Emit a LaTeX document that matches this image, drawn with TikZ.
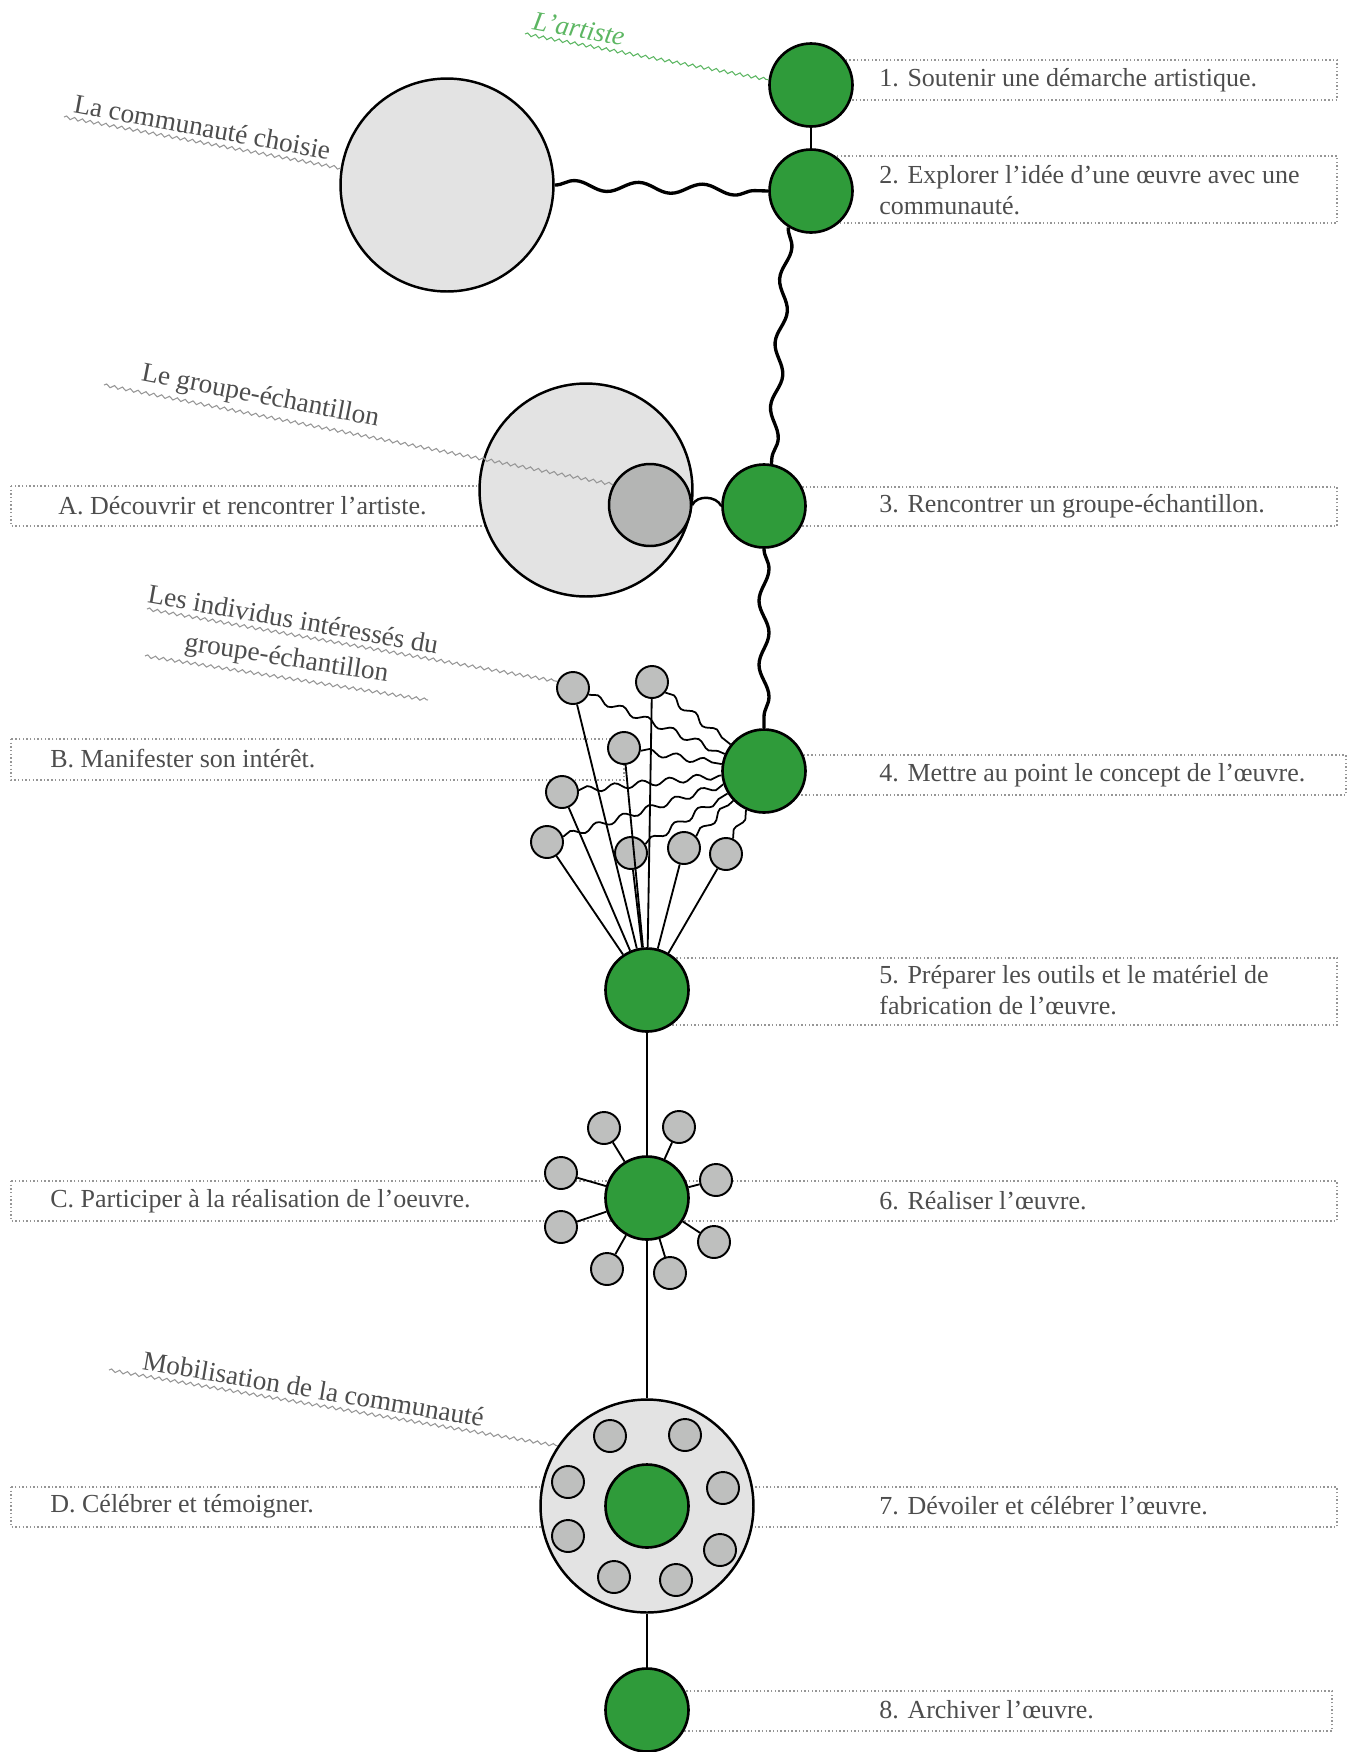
\documentclass[tikz,border=0pt]{standalone}
\usepackage{fontspec}
\setmainfont{Liberation Serif}
\usetikzlibrary{positioning, decorations.pathmorphing, calc}

\definecolor{vert}{RGB}{47,155,58}
\definecolor{vertclair}{RGB}{92,182,98}
\definecolor{grisfond}{RGB}{227,227,227}
\definecolor{grismoyen}{RGB}{190,191,190}
\definecolor{gristexte}{RGB}{77,77,77}
\definecolor{grisligne}{RGB}{150,150,150}

\begin{document}
\begin{tikzpicture}[x=0.02cm, y=-0.02cm, every node/.style={align=left},
  etape/.style={circle, draw, line width=1.5pt, fill=vert, minimum size=1.66cm, inner sep=0pt},
  groupe/.style={circle, draw, line width=1.4pt, fill=grisfond, minimum size=4.26cm, inner sep=0pt},
  individu/.style={circle, draw, line width=1.1pt, fill=grismoyen, minimum size=0.64cm, inner sep=0pt},
  texte/.style={text=gristexte, font=\fontsize{14.8}{17.6}\selectfont, anchor=west, inner sep=0pt},
  boite/.style={draw=grisligne, line width=0.8pt, dash pattern=on 0.8pt off 1.3pt},
  lien/.style={line width=1.9pt, decorate, decoration={snake, amplitude=0.1cm, segment length=1.28cm}},
  fil/.style={line width=1.4pt},
  filfin/.style={line width=1.05pt},
  onde/.style={line width=1pt, decorate, decoration={snake, amplitude=0.065cm, segment length=0.55cm}},
  renvoi/.style={draw=grisligne, line width=0.6pt, decorate, decoration={snake, amplitude=0.03cm, segment length=0.16cm}},
  legende/.style={text=gristexte, font=\fontsize{15.5}{18}\selectfont, sloped, above=3pt, inner sep=0pt, align=center}]

  \useasboundingbox (0,0) rectangle (1347,1752);

  % Boxes
  \draw[boite] (811,60) rectangle (1337,100);
  \draw[boite] (811,156) rectangle (1337,223);
  \draw[boite] (764,487) rectangle (1337,526);
  \draw[boite] (764,755) rectangle (1346,795);
  \draw[boite] (647,958) rectangle (1337,1025);
  \draw[boite] (647,1181) rectangle (1337,1221);
  \draw[boite] (647,1487) rectangle (1337,1527);
  \draw[boite] (647,1691) rectangle (1332,1731);
  \draw[boite] (11,486) rectangle (586,526);
  \draw[boite] (11,739) rectangle (624,780);
  \draw[boite] (11,1181) rectangle (647,1221);
  \draw[boite] (11,1487) rectangle (647,1527);

  % Steps
  \node[texte] (t1) at (879,80) {1. Soutenir une démarche artistique.};
  \node[texte] (t2) at (879,190) {2. Explorer l’idée d’une œuvre avec une\\communauté.};
  \node[texte] (t3) at (879,506) {3. Rencontrer un groupe-échantillon.};
  \node[texte] (t4) at (879,775) {4. Mettre au point le concept de l’œuvre.};
  \node[texte] (t5) at (879,990) {5. Préparer les outils et le matériel de\\fabrication de l’œuvre.};
  \node[texte] (t6) at (879,1201) {6. Réaliser l’œuvre.};
  \node[texte] (t7) at (879,1506) {7. Dévoiler et célébrer l’œuvre.};
  \node[texte] (t8) at (879,1710) {8. Archiver l’œuvre.};
  \node[texte] (tA) at (58,506) {A. Découvrir et rencontrer l’artiste.};
  \node[texte] (tB) at (50,759) {B. Manifester son intérêt.};
  \node[texte] (tC) at (50,1201) {C. Participer à la réalisation de l’oeuvre.};
  \node[texte] (tD) at (50,1506) {D. Célébrer et témoigner.};

  % Circles
  \node[groupe] (comm) at (447,185) {};
  \node[groupe] (grp) at (586,490) {};
  \node[circle, draw, line width=1.4pt, fill=grismoyen!95!black, minimum size=1.64cm, inner sep=0pt] (echant) at (650,505) {};
  \node[groupe] (grp7) at (647,1506) {};

  \node[etape] (n1) at (811,85) {};
  \node[etape] (n2) at (811,191) {};
  \node[etape] (n3) at (764,506) {};
  \node[etape] (n4) at (764,771) {};
  \node[etape] (n5) at (647,990) {};
  \node[etape] (n6) at (647,1198) {};
  \node[etape] (n7) at (647,1506) {};
  \node[etape] (n8) at (647,1710) {};

  % Individuals
  \node[individu] (i1) at (573,688) {};
  \node[individu] (i2) at (652,682) {};
  \node[individu] (i3) at (624,748) {};
  \node[individu] (i4) at (562,792) {};
  \node[individu] (i5) at (547,842) {};
  \node[individu] (i6) at (631,853) {};
  \node[individu] (i7) at (684,848) {};
  \node[individu] (i8) at (726,854) {};

  \node[individu] (s1) at (604,1128) {};
  \node[individu] (s2) at (679,1127) {};
  \node[individu] (s3) at (561,1173) {};
  \node[individu] (s4) at (716,1180) {};
  \node[individu] (s5) at (561,1227) {};
  \node[individu] (s6) at (714,1242) {};
  \node[individu] (s7) at (607,1269) {};
  \node[individu] (s8) at (670,1273) {};

  \node[individu] (m1) at (610,1436) {};
  \node[individu] (m2) at (685,1435) {};
  \node[individu] (m3) at (568,1482) {};
  \node[individu] (m4) at (723,1488) {};
  \node[individu] (m5) at (568,1536) {};
  \node[individu] (m6) at (720,1550) {};
  \node[individu] (m7) at (614,1577) {};
  \node[individu] (m8) at (676,1580) {};

  % Links
  \draw[fil] (n1) -- (n2);
  \draw[lien] (comm.east) -- (n2.west);
  \draw[lien] (n2.238) -- (n3.80);
  \draw[fil] (echant.east) to[out=65, in=115] (n3.west);
  \draw[lien] (n3.south) -- (n4.north);
  \draw[fil] (n5) -- (n6);
  \draw[fil] (n6) -- (grp7);
  \draw[fil] (grp7) -- (n8);

  \draw[onde] (i1) -- (n4);
  \draw[onde] (i2) -- (n4);
  \draw[onde] (i3) -- (n4);
  \draw[onde] (i4) -- (n4);
  \draw[onde] (i5) -- (n4);
  \draw[onde] (i6) -- (n4);
  \draw[onde] (i7) -- (n4);
  \draw[onde] (i8) -- (n4);

  \draw[filfin] (i1) -- (n5);
  \draw[filfin] (i2) -- (n5);
  \draw[filfin] (i3) -- (n5);
  \draw[filfin] (i4) -- (n5);
  \draw[filfin] (i5) -- (n5);
  \draw[filfin] (i6) -- (n5);
  \draw[filfin] (i7) -- (n5);
  \draw[filfin] (i8) -- (n5);

  \draw[filfin] (s1) -- (n6);
  \draw[filfin] (s2) -- (n6);
  \draw[filfin] (s3) -- (n6);
  \draw[filfin] (s4) -- (n6);
  \draw[filfin] (s5) -- (n6);
  \draw[filfin] (s6) -- (n6);
  \draw[filfin] (s7) -- (n6);
  \draw[filfin] (s8) -- (n6);

  % Captions
  \coordinate (ca) at (525,34);
  \coordinate (cc) at (64,117);
  \coordinate (cg) at (104,385);
  \coordinate (ci) at (147,609);
  \coordinate (ci2) at (145,656);
  \coordinate (ci3) at (428,700);
  \coordinate (cm) at (109,1370);

  \draw[renvoi, draw=vertclair] (ca) -- node[legende, text=vertclair, font=\fontsize{15.5}{18}\selectfont\itshape, pos=0.21] (lart) {L’artiste} (n1.173);
  \draw[renvoi] (cc) -- node[legende, pos=0.49] (lcomm) {La communauté choisie} (comm.171);
  \draw[renvoi] (cg) -- node[legende, pos=0.3] (lgrp) {Le groupe-échantillon} (echant.151);
  \draw[renvoi] (ci) -- node[legende, pos=0.35] (lind) {Les individus intéressés du} (i1.157);
  \draw[renvoi] (ci2) -- node[legende, pos=0.49] (lind2) {groupe-échantillon} (ci3);
  \draw[renvoi] (cm) -- node[legende, pos=0.45] (lmob) {Mobilisation de la communauté} (grp7.146);
\end{tikzpicture}
\end{document}
